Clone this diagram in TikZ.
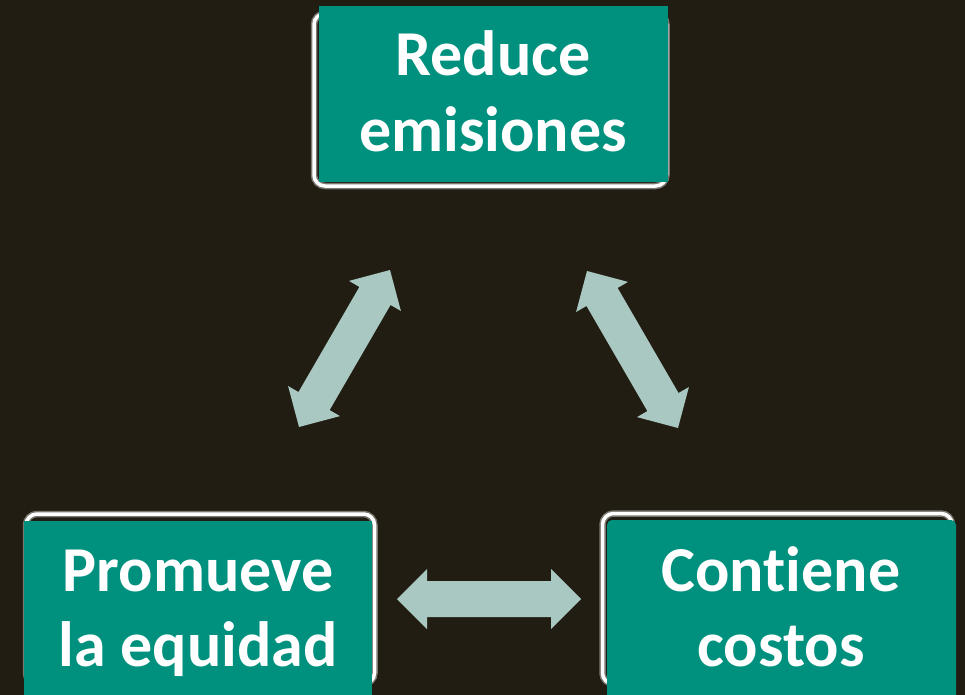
\documentclass[tikz,border=0pt]{standalone}
\usepackage{fontspec}
\setmainfont[Ligatures={NoCommon}]{Carlito}
\usetikzlibrary{calc}
\definecolor{bg}{RGB}{33,29,18}
\definecolor{tealbox}{RGB}{0,145,126}
\definecolor{arrowc}{RGB}{169,200,194}
\newcommand\dblarrow[2]{%
  \path ($(#1)!30pt!(#2)$) coordinate (#1h) ($(#2)!30pt!(#1)$) coordinate (#2h);
  \fill[blockarrow] (#1) -- ($(#1h)!30pt!90:(#2)$) -- ($(#1h)!18pt!90:(#2)$)
    -- ($(#2h)!18pt!90:(#2)$) -- ($(#2h)!30pt!90:(#2)$) -- (#2)
    -- ($(#2h)!30pt!-90:(#2)$) -- ($(#2h)!18pt!-90:(#2)$)
    -- ($(#1h)!18pt!-90:(#2)$) -- ($(#1h)!30pt!-90:(#2)$) -- cycle;}
\begin{document}
\begin{tikzpicture}[x=1pt,y=-1pt,
  glow/.style={draw=white!40!bg, line width=6.5pt, rounded corners=11pt},
  frame/.style={draw=white, line width=3.5pt, rounded corners=11pt},
  panel/.style={fill=tealbox},
  blockarrow/.style={fill=arrowc},
  label/.style={font=\fontsize{64}{76}\selectfont\bfseries, text=white, anchor=base, inner sep=0pt}]
\useasboundingbox (0,0) rectangle (965,695);
\fill[bg] (0,0) rectangle (965,695);
% top box
\draw[glow] (314,13.5) rectangle (666.5,186);
\draw[frame] (314,13.5) rectangle (666.5,186);
\fill[panel] (319,6) rectangle (668,182);
\node[label] (t1) at (493,76) {Reduce};
\node[label] (t2) at (493,152) {emisiones};
% bottom-left box
\draw[glow] (26,514) rectangle (374.5,684);
\draw[frame] (26,514) rectangle (374.5,684);
\fill[panel] (24,521) rectangle (372,700);
\node[label] (l1) at (198,591) {Promueve};
\node[label] (l2) at (198,666) {la equidad};
% bottom-right box
\draw[glow] (602.5,513.5) rectangle (952,684);
\draw[frame] (602.5,513.5) rectangle (952,684);
\fill[panel, rounded corners=5pt] (607,520) -- (956,520) -- (956,700) -- (607,700) -- cycle;
\node[label] (r1) at (781,591) {Contiene};
\node[label] (r2) at (781,666) {costos};
% arrows
\coordinate (aL1) at (299,427);
\coordinate (aL2) at (390,270);
\coordinate (aR1) at (587,271);
\coordinate (aR2) at (678,428);
\coordinate (aH1) at (397,599);
\coordinate (aH2) at (581,599);
\dblarrow{aL1}{aL2}
\dblarrow{aR1}{aR2}
\dblarrow{aH1}{aH2}
\end{tikzpicture}
\end{document}
